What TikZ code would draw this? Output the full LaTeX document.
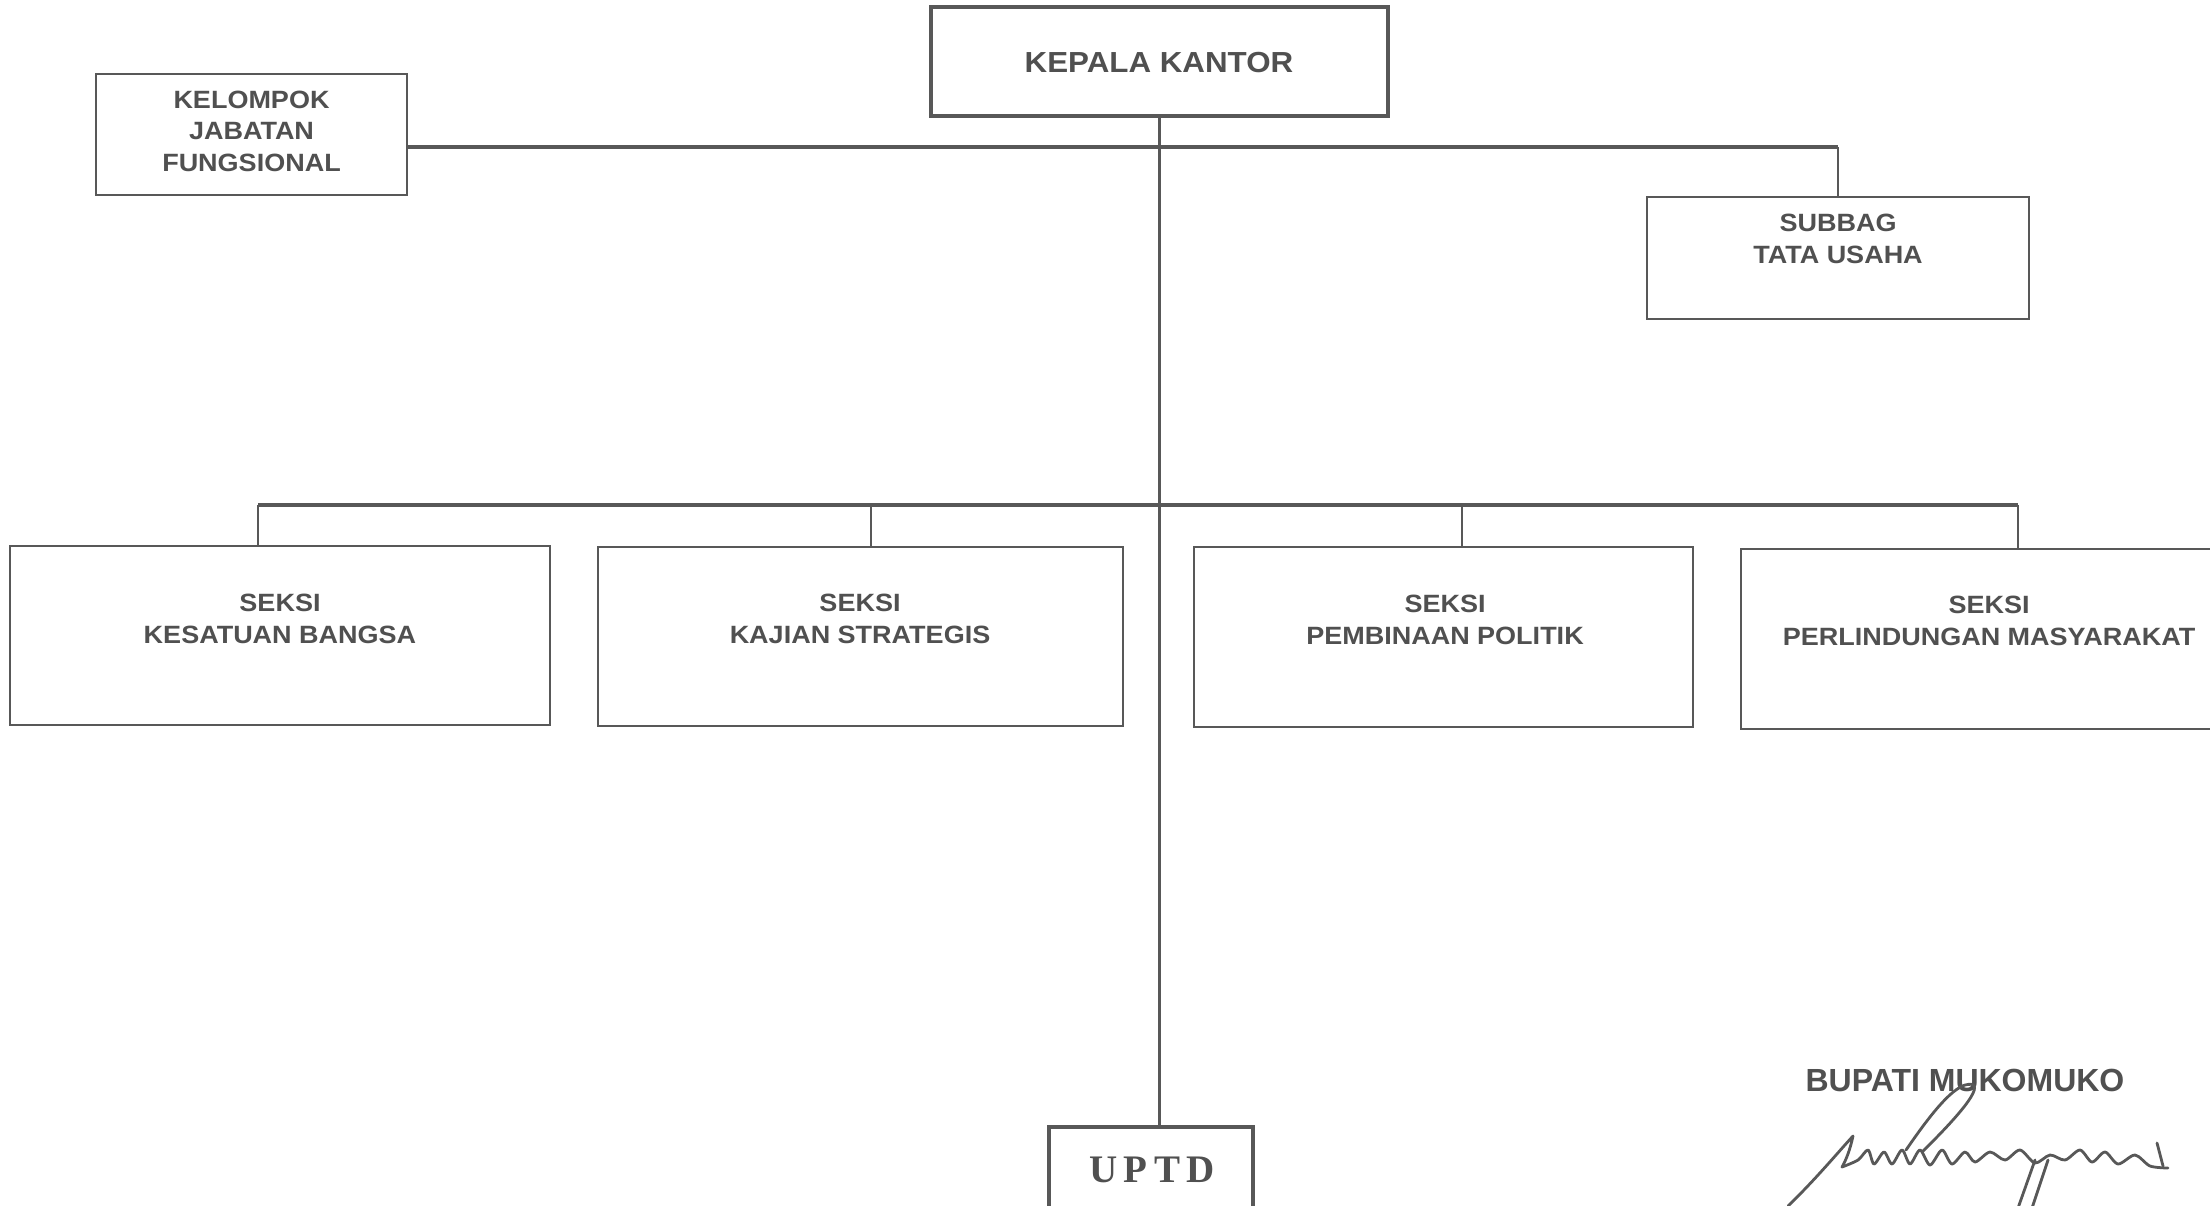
\documentclass[tikz,border=0pt]{standalone}
\usepackage{fontspec}
\newfontfamily\orgfont{Liberation Sans}[FakeStretch=1.08]
\newfontfamily\bupfont{Liberation Sans}
\newfontfamily\uptdfont{Liberation Serif}
\definecolor{ink}{RGB}{88,88,88}
\definecolor{txt}{RGB}{80,80,80}
\begin{document}
\begin{tikzpicture}[x=0.5pt,y=-0.5pt,
  box/.style={draw=ink,line width=1pt,rectangle,inner sep=0pt},
  headbox/.style={box,line width=1.6pt},
  lbl/.style={text=txt,align=center,inner sep=0pt,font=\orgfont\bfseries\fontsize{12.5}{15.8}\selectfont},
  bus/.style={draw=ink,line width=2pt},
  trunk/.style={draw=ink,line width=1.4pt},
  dropline/.style={draw=ink,line width=0.8pt},
  sig/.style={draw=ink,line width=1.4pt,line cap=round,line join=round}]
\useasboundingbox (0,0) rectangle (2210,1205);
\clip (0,0) rectangle (2210,1205);
\fill[white] (0,0) rectangle (2210,1205);

% boxes
\node[headbox,minimum width=228.5pt,minimum height=54.5pt] (kk) at (1159.5,61.5) {};
\node[box,minimum width=155.5pt,minimum height=60.5pt] (kjf) at (251.5,134.5) {};
\node[box,minimum width=191pt,minimum height=61pt] (sb) at (1838,258) {};
\node[box,minimum width=270pt,minimum height=89.5pt] (s1) at (280,635.5) {};
\node[box,minimum width=262.5pt,minimum height=89.5pt] (s2) at (860.5,636) {};
\node[box,minimum width=249.5pt,minimum height=90pt] (s3) at (1443.5,637) {};
\node[box,minimum width=249.5pt,minimum height=90pt] (s4) at (1990.5,639) {};
\node[headbox,minimum width=102pt,minimum height=46.5pt] (uptd) at (1151,1173.5) {};

% texts
\node[lbl,font=\orgfont\bfseries\fontsize{14.5}{17}\selectfont] (tkk) at (1159,63) {KEPALA KANTOR};
\node[lbl] (tkjf) at (251.5,131) {KELOMPOK\\JABATAN\\FUNGSIONAL};
\node[lbl] (tsb) at (1838,239) {SUBBAG\\TATA USAHA};
\node[lbl] (ts1) at (280,619) {SEKSI\\KESATUAN BANGSA};
\node[lbl] (ts2) at (860,619) {SEKSI\\KAJIAN STRATEGIS};
\node[lbl] (ts3) at (1445,620) {SEKSI\\PEMBINAAN POLITIK};
\node[lbl] (ts4) at (1989,621) {SEKSI\\PERLINDUNGAN MASYARAKAT};
\node[text=txt,inner sep=0pt,font=\uptdfont\bfseries\fontsize{19.5}{22}\selectfont] (tu) at (1152,1170) {U\kern3.3pt P\kern3.3pt T\kern3.3pt D};
\node[text=txt,inner sep=0pt,font=\bupfont\bfseries\fontsize{16}{19}\selectfont] (tbup) at (1965,1080.5) {BUPATI MUKOMUKO};

% connector coordinates
\coordinate (ul) at (407,147);
\coordinate (ur) at (1838,147);
\coordinate (d1) at (258,505);
\coordinate (d2) at (871,505);
\coordinate (d3) at (1462,505);
\coordinate (d4) at (2018,505);

% connectors
\draw[trunk] (kk.south) -- (kk.south |- uptd.north);
\draw[bus] (ul) -- (ur);
\draw[dropline] (ur) -- (sb.north);
\draw[bus] (d1) -- (d4);
\draw[dropline] (d1) -- (d1 |- s1.north);
\draw[dropline] (d2) -- (d2 |- s2.north);
\draw[dropline] (d3) -- (d3 |- s3.north);
\draw[dropline] (d4) -- (d4 |- s4.north);

% signature
\draw[sig] (1788,1206) .. controls (1815,1180) and (1840,1150) .. (1853,1136)
  .. controls (1850,1150) and (1846,1160) .. (1842,1167);
\draw[sig] plot[smooth] coordinates {(1842,1167) (1858,1160) (1868,1150) (1874,1164) (1884,1152) (1892,1164) (1902,1150) (1910,1164) (1920,1150) (1930,1165) (1942,1150) (1952,1164) (1965,1152) (1975,1162) (1990,1152) (2005,1160) (2020,1150) (2035,1163) (2050,1155) (2065,1160) (2080,1150) (2092,1162) (2105,1152) (2118,1164) (2135,1155) (2150,1166) (2168,1168)};
\draw[sig] (2157,1143) -- (2163,1166);
\draw[sig] (1906,1150) .. controls (1930,1115) and (1950,1090) .. (1965,1085)
  .. controls (1985,1080) and (1975,1100) .. (1922,1152);
\draw[sig] (2035,1160) -- (2018,1208);
\draw[sig] (2048,1160) -- (2032,1208);
\end{tikzpicture}
\end{document}
